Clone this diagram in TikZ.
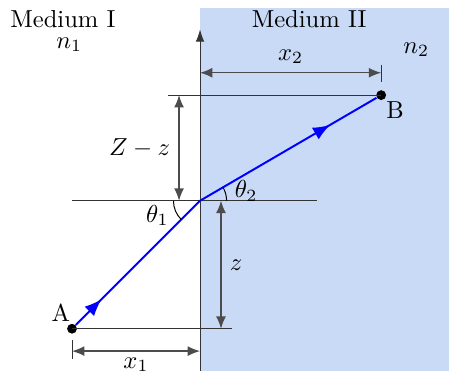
\documentclass[tikz,border=0pt]{standalone}
\usepackage{amsmath, amssymb}
\usepackage{tikz}
\usetikzlibrary{arrows.meta, decorations.markings}
\usepackage{xcolor}
\definecolor{mediumblue}{RGB}{200,218,246}
\tikzset{
  guide/.style={black!80, line width=0.4pt},
  dimline/.style={
    {Latex[length=5pt,width=4pt]}-{Latex[length=5pt,width=4pt]},
    draw=black!70, line width=0.5pt
  },
  ray/.style={
    blue, line width=0.8pt,
    decoration={markings,
      mark=at position 0.52cm with {\arrow{Latex[length=7pt,width=5.5pt]}},
      mark=at position 4.66cm with {\arrow{Latex[length=7pt,width=5.5pt]}}},
    postaction={decorate}
  },
  point/.style={circle, fill=black, inner sep=0pt, minimum size=4pt},
  anglearc/.style={black, line width=0.4pt}
}

\begin{document}
\begin{tikzpicture}

  \useasboundingbox (-2.86,-2.43) rectangle (3.56,2.87);
  \fill[mediumblue] (0,-2.43) rectangle (3.56,2.76);

  \coordinate (O) at (0,0);
  \node[point] (A) at (-1.83,-1.83) {};
  \node[point] (B) at (2.59,1.51) {};

  % interface and reference lines
  \draw[guide, -{Latex[length=5pt,width=3.5pt]}] (0,-2.43) -- (0,2.45);
  \draw[guide] (-1.83,0) -- (1.67,0);
  \draw[guide] (A.center) -- (0.46,-1.83);
  \draw[guide] (-0.46,1.51) -- (B.center);

  % dimensions
  \draw[guide] (2.59,1.70) -- (2.59,1.94);
  \draw[dimline] (0,1.83) -- node[above]{$x_2$} (2.59,1.83);
  \draw[dimline] (-0.30,1.51) -- node[left]{$Z-z$} (-0.30,0);
  \draw[dimline] (0.30,0) -- node[right]{$z$} (0.30,-1.83);
  \draw[guide] (-1.83,-1.99) -- (-1.83,-2.27);
  \draw[dimline] (-1.83,-2.15) -- node[below=-1pt]{$x_1$} (0,-2.15);

  % light path
  \draw[ray] (A) -- (O) -- (B);

  \draw[anglearc] ([shift={(180:0.38)}]O) arc[start angle=180, end angle=225, radius=0.38];
  \draw[anglearc] ([shift={(0:0.38)}]O) arc[start angle=0, end angle=30, radius=0.38];
  \node (th1) at (-0.61,-0.21) {$\theta_1$};
  \node (th2) at (0.66,0.14) {$\theta_2$};

  \node (labA) at (-1.99,-1.60) {A};
  \node (labB) at (2.79,1.30) {B};

  \node (med1) at (-1.96,2.59) {Medium I};
  \node (n1) at (-1.87,2.23) {$n_1$};
  \node (med2) at (1.56,2.59) {Medium II};
  \node (n2) at (3.09,2.16) {$n_2$};

\end{tikzpicture}
\end{document}
